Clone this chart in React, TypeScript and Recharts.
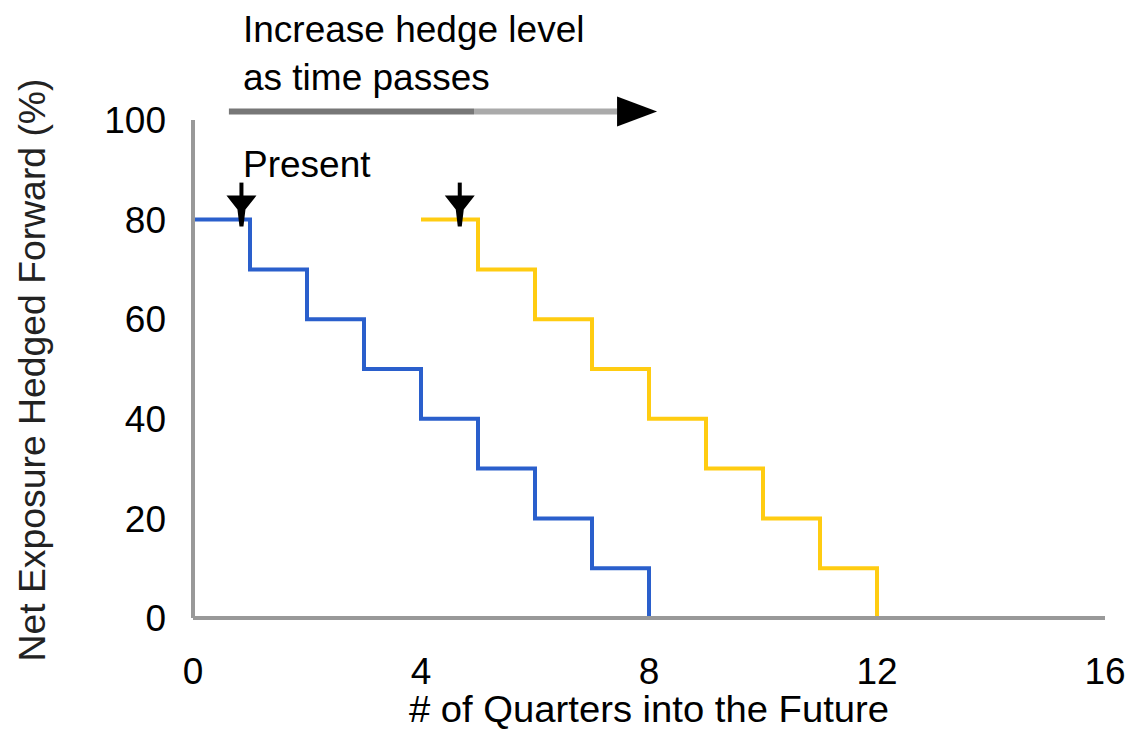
import React from "react";
import { LineChart, Line, XAxis, YAxis, ReferenceLine, ReferenceDot } from "recharts";

const xTicks = [0, 4, 8, 12, 16];
const yTicks = [0, 20, 40, 60, 80, 100];

const currentQuarters = [0, 1, 2, 3, 4, 5, 6, 7, 8];
const currentHedge = [80, 70, 60, 50, 40, 30, 20, 10, 0];

const futureQuarters = [4, 5, 6, 7, 8, 9, 10, 11, 12];
const futureHedge = [80, 70, 60, 50, 40, 30, 20, 10, 0];

const currentData = currentQuarters.map((x, i) => ({ x, y: currentHedge[i] }));
const futureData = futureQuarters.map((x, i) => ({ x, y: futureHedge[i] }));

const FONT = "'Liberation Sans', Arial, sans-serif";
const FS = 37;

const titleLines = ["Increase hedge level", "as time passes"];
const titleX = 0.877;
const titleY = [115.7, 106.0];
const presentLabel = "Present";
const presentY = 88.6;
const arrowY = 101.7;
const arrowStart = 0.63;
const arrowMid = 4.93;
const arrowEnd = 7.44;
const markerXs = [0.85, 4.68];
const markerY = 80;

const TextShape = (text: string) => (props: any) => (
  <text x={props.cx} y={props.cy} fontFamily={FONT} fontSize={FS} fill="#000">
    {text}
  </text>
);

const ArrowHeadRight = (props: any) => {
  const { cx, cy } = props;
  return <polygon points={`${cx},${cy - 15} ${cx + 40},${cy} ${cx},${cy + 15}`} fill="#000" />;
};

const DownArrow = (props: any) => {
  const { cx, cy } = props;
  return (
    <g>
      <line x1={cx} y1={cy - 37} x2={cx} y2={cy - 20} stroke="#000" strokeWidth={4} />
      <polygon
        points={`${cx - 15},${cy - 24} ${cx + 15},${cy - 24} ${cx + 4},${cy - 10} ${cx + 2},${cy + 7} ${cx - 2},${cy + 7} ${cx - 4},${cy - 10}`}
        fill="#000"
      />
    </g>
  );
};

const XLabel = (props: any) => {
  const vb = props.viewBox || {};
  return (
    <text
      x={vb.x + vb.width / 2}
      y={vb.y + 104}
      textAnchor="middle"
      fontFamily={FONT}
      fontSize={FS}
      fill="#000"
      textLength={480}
      lengthAdjust="spacingAndGlyphs"
    >
      # of Quarters into the Future
    </text>
  );
};

const YLabel = (props: any) => {
  const cx = 45;
  const cy = 370;
  return (
    <text
      x={cx}
      y={cy}
      textAnchor="middle"
      fontFamily={FONT}
      fontSize={FS}
      fill="#222"
      textLength={583}
      lengthAdjust="spacingAndGlyphs"
      transform={`rotate(-90, ${cx}, ${cy})`}
    >
      Net Exposure Hedged Forward (%)
    </text>
  );
};

export default function App() {
  return (
    <div style={{ position: "absolute", left: 0, top: 0, width: 1129, height: 729, background: "#fff" }}>
      <LineChart width={1129} height={729} margin={{ top: 120, right: 24, bottom: 11, left: 0 }}>
        <XAxis
          type="number"
          dataKey="x"
          domain={[0, 16]}
          ticks={xTicks}
          allowDataOverflow
          height={100}
          axisLine={{ stroke: "#999", strokeWidth: 4 }}
          tickLine={false}
          tickSize={0}
          tickMargin={40}
          tick={{ fill: "#000", fontSize: FS, fontFamily: FONT }}
          label={<XLabel />}
        />
        <YAxis
          type="number"
          dataKey="y"
          domain={[0, 100]}
          ticks={yTicks}
          allowDataOverflow
          width={193}
          axisLine={{ stroke: "#999", strokeWidth: 4 }}
          tickLine={false}
          tickSize={0}
          tickMargin={27}
          tick={{ fill: "#000", fontSize: FS, fontFamily: FONT }}
          label={<YLabel />}
        />
        <Line
          data={currentData}
          dataKey="y"
          type="stepAfter"
          stroke="#2a5fcc"
          strokeWidth={4}
          dot={false}
          isAnimationActive={false}
        />
        <Line
          data={futureData}
          dataKey="y"
          type="stepAfter"
          stroke="#ffcc11"
          strokeWidth={4}
          dot={false}
          isAnimationActive={false}
        />
        <ReferenceLine
          segment={[{ x: arrowStart, y: arrowY }, { x: arrowMid, y: arrowY }]}
          stroke="#777"
          strokeWidth={6}
          ifOverflow="visible"
        />
        <ReferenceLine
          segment={[{ x: arrowMid, y: arrowY }, { x: arrowEnd, y: arrowY }]}
          stroke="#aaa"
          strokeWidth={6}
          ifOverflow="visible"
        />
        <ReferenceDot x={arrowEnd} y={arrowY} ifOverflow="visible" shape={ArrowHeadRight} />
        {markerXs.map((mx) => (
          <ReferenceDot key={mx} x={mx} y={markerY} ifOverflow="visible" shape={DownArrow} />
        ))}
        {titleLines.map((t, i) => (
          <ReferenceDot key={t} x={titleX} y={titleY[i]} ifOverflow="visible" shape={TextShape(t)} />
        ))}
        <ReferenceDot x={titleX} y={presentY} ifOverflow="visible" shape={TextShape(presentLabel)} />
      </LineChart>
    </div>
  );
}
